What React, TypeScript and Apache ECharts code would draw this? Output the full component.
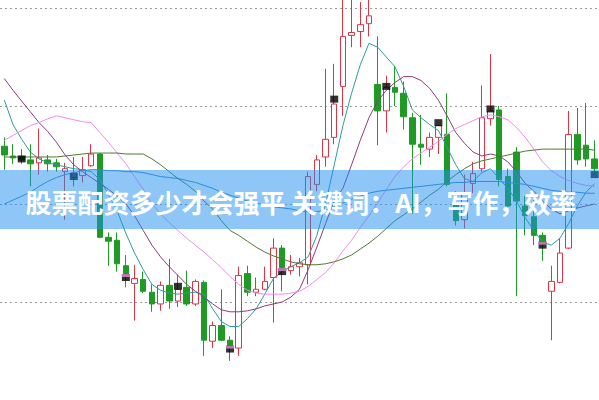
import { useEffect, useRef } from 'react'
import * as echarts from 'echarts'

// 69 trading days, x axis is hidden
const days = Array.from({ length: 69 }, (_, i) => `D${i + 1}`)

// [open, close, low, high]
const candles: number[][] = [
  [25.9, 25.0, 23.5, 26.8], [24.9, 24.7, 24.1, 26.1], [24.8, 24.5, 24.1, 25.6], [24.5, 24.1, 21.8, 26.1],
  [24.2, 24.7, 23.0, 27.7], [24.5, 24.1, 23.3, 25.0], [24.2, 23.8, 23.3, 24.6], [23.3, 23.6, 18.4, 24.2],
  [22.7, 23.2, 21.8, 24.8], [22.9, 23.5, 22.2, 24.8], [23.9, 25.1, 23.8, 26.1], [25.1, 16.6, 16.5, 25.2],
  [16.6, 16.2, 13.7, 17.1], [16.3, 13.9, 13.1, 17.1], [13.7, 12.8, 11.5, 14.8], [11.9, 12.4, 8.1, 13.8],
  [12.3, 11.1, 10.9, 13.1], [11.0, 9.8, 9.0, 11.8], [9.8, 11.7, 9.1, 12.1], [11.7, 10.1, 9.3, 14.4],
  [10.1, 11.3, 9.5, 12.8], [11.5, 9.8, 9.6, 13.2], [9.8, 12.1, 9.6, 12.3], [12.0, 6.1, 4.5, 12.2],
  [6.0, 7.6, 5.3, 8.0], [7.6, 6.1, 6.0, 11.3], [6.1, 5.5, 4.0, 6.5], [5.3, 12.7, 4.5, 13.6],
  [12.9, 11.0, 10.6, 13.7], [11.0, 11.3, 10.6, 12.5], [11.3, 12.1, 11.2, 13.6], [12.5, 15.5, 7.9, 16.5],
  [15.5, 13.5, 11.1, 15.8], [13.2, 13.6, 12.8, 14.8], [13.6, 14.0, 12.6, 14.5], [13.8, 22.8, 11.8, 23.3],
  [22.0, 24.5, 21.3, 25.0], [24.8, 26.6, 23.8, 33.8], [26.8, 30.2, 26.1, 34.3], [32.0, 37.1, 29.0, 42.3],
  [37.2, 37.5, 36.0, 41.8], [37.6, 38.3, 36.0, 40.6], [38.4, 39.2, 37.1, 41.3], [32.2, 29.5, 26.0, 37.1],
  [29.5, 31.9, 27.3, 33.1], [31.9, 31.4, 30.0, 34.1], [31.3, 28.9, 27.6, 32.5], [28.8, 26.1, 19.0, 29.3],
  [26.1, 25.8, 24.0, 29.1], [25.6, 26.8, 24.8, 27.3], [26.8, 28.0, 25.1, 28.1], [27.1, 22.0, 21.8, 31.3],
  [20.1, 18.3, 17.8, 21.3], [18.4, 21.1, 17.5, 23.0], [22.1, 23.1, 21.1, 24.3], [23.6, 28.8, 23.3, 32.1],
  [28.7, 29.5, 28.0, 35.3], [29.6, 22.5, 21.8, 30.0], [22.8, 19.8, 19.1, 23.6], [25.3, 20.3, 10.6, 25.8],
  [19.8, 18.8, 16.8, 20.8], [18.7, 16.8, 15.8, 20.4], [16.8, 16.1, 14.2, 17.1], [11.1, 12.1, 6.1, 13.7],
  [12.0, 15.0, 11.9, 16.5], [15.5, 27.1, 15.4, 29.5], [27.1, 24.5, 24.0, 29.8], [26.0, 24.6, 23.8, 30.3],
  [24.6, 23.6, 23.2, 26.5],
]

const maTeal = [
  30.6, 28.1, 26.6, 25.3, 24.6, 24.2, 24.0, 23.8, 23.6, 23.5, 23.3, 22.5, 21.0, 19.3, 17.0, 15.0, 13.3,
  11.8, 11.2, 10.9, 10.8, 10.9, 11.0, 10.8, 9.3, 8.0, 7.5, 7.5, 8.3, 9.3, 10.8, 12.4, 13.1, 13.6, 14.0,
  14.6, 16.8, 20.0, 24.0, 28.0, 31.3, 34.2, 36.4, 36.0, 35.0, 34.0, 32.0, 29.6, 28.8, 28.1, 27.5, 25.8,
  24.0, 22.6, 22.3, 23.2, 23.6, 22.6, 21.6, 20.3, 18.6, 17.3, 16.1, 15.8, 16.5, 18.0, 19.8, 21.2, 22.1,
]
const maPurple = [
  32.8, 31.6, 30.5, 29.4, 28.3, 27.4, 26.3, 25.0, 24.0, 23.3, 22.7, 22.1, 21.5, 20.8, 20.0, 18.8, 17.3,
  15.8, 14.6, 13.6, 12.7, 11.8, 11.1, 10.5, 9.8, 9.2, 9.0, 9.0, 9.1, 9.3, 9.6, 9.8, 10.0, 10.5, 11.3,
  13.3, 15.6, 18.0, 20.3, 21.6, 24.0, 26.5, 28.8, 30.5, 31.6, 32.4, 33.0, 33.0, 32.6, 31.8, 30.6, 29.0,
  27.3, 26.2, 25.3, 24.9, 25.1, 24.9, 24.3, 23.3, 22.1, 21.3, 20.3, 19.5, 19.0, 19.3, 19.6, 19.8, 20.0,
]
const maPink = [
  26.5, 27.0, 27.5, 28.0, 28.3, 28.7, 29.0, 28.8, 28.6, 28.4, 28.3, 27.3, 26.3, 25.2, 24.1, 22.8, 21.5,
  20.0, 19.0, 18.1, 17.3, 16.5, 15.8, 15.1, 14.3, 13.5, 12.6, 11.8, 11.2, 10.9, 10.8, 10.8, 10.8, 10.9,
  11.1, 11.6, 12.3, 13.0, 14.0, 15.2, 16.3, 17.6, 18.8, 20.1, 21.5, 22.8, 23.8, 24.6, 25.2, 25.8, 26.4,
  27.1, 27.7, 28.1, 28.5, 28.9, 29.1, 28.9, 28.6, 27.8, 26.8, 25.6, 24.3, 23.4, 22.8, 22.4, 22.1, 21.9, 21.8,
]
const maOlive = [
  24.8, 24.8, 24.8, 24.8, 24.8, 24.8, 24.8, 24.9, 25.0, 25.1, 25.2, 25.2, 25.2, 25.2, 25.1, 25.1, 25.1,
  24.6, 24.0, 23.3, 22.6, 22.0, 21.3, 20.3, 19.5, 18.3, 17.3, 16.8, 16.2, 15.6, 15.1, 14.7, 14.4, 14.1,
  13.9, 13.8, 13.8, 13.9, 14.1, 14.4, 14.8, 15.4, 16.0, 16.7, 17.5, 18.3, 18.9, 19.5, 20.2, 20.9, 21.5,
  22.3, 23.0, 23.6, 24.1, 24.4, 24.6, 24.8, 25.0, 25.2, 25.4, 25.5, 25.6, 25.6, 25.6, 25.6, 25.6, 25.6, 25.5,
]
const maBlue = [
  20.0, 20.4, 20.8, 21.2, 21.8, 22.3, 22.7, 23.0, 23.2, 23.4, 23.5, 23.5, 23.4, 23.4, 23.3, 23.3, 23.2,
  23.0, 22.8, 22.7, 22.6, 22.4, 22.2, 21.9, 21.6, 21.2, 20.9, 20.6, 20.3, 20.1, 19.9, 19.7, 19.6, 19.5,
  19.3, 19.2, 19.2, 19.4, 19.7, 20.1, 20.5, 20.8, 21.1, 21.3, 21.4, 21.5, 21.6, 21.7, 21.8, 21.9, 22.0,
  22.1, 22.2, 22.2, 22.3, 22.3, 22.3, 22.3, 22.2, 22.1, 22.0, 21.8, 21.6, 21.4, 21.3, 21.2, 21.2, 21.1, 21.1,
]

// signal boxes every 6th day: [dayIndex, price]
const signalsDark: number[][] = [
  [2, 24.6], [8, 22.8], [20, 11.6], [38, 30.7], [44, 32.0], [50, 28.3], [56, 29.7], [68, 23.0],
]
const signalsPink: number[][] = [[14, 12.5], [26, 5.2], [32, 13.1], [62, 15.8]]

const TITLE = '股票配资多少才会强平 关键词：AI，写作，效率'

const RED = '#dc3545'
const GREEN = '#1f9b25'

function line(name: string, data: number[], color: string) {
  return {
    name,
    type: 'line' as const,
    data,
    symbol: 'none',
    clip: false,
    silent: true,
    lineStyle: { color, width: 1 },
    z: 3,
  }
}

export default function App() {
  const ref = useRef<HTMLDivElement>(null)

  useEffect(() => {
    if (!ref.current) return
    const chart = echarts.init(ref.current, undefined, { renderer: 'svg' })
    chart.setOption({
      animation: false,
      backgroundColor: '#fff',
      grid: { left: 0, right: -5, top: 8, bottom: -8 },
      xAxis: {
        type: 'category',
        data: days,
        boundaryGap: true,
        show: false,
      },
      yAxis: {
        type: 'value',
        min: 0,
        max: 40,
        interval: 10,
        axisLine: { show: false },
        axisTick: { show: false },
        axisLabel: { show: false },
        splitLine: { show: true, lineStyle: { color: '#9a9a9a', type: [2, 3], width: 1 } },
      },
      series: [
        {
          type: 'candlestick',
          data: candles,
          barWidth: 6,
          clip: false,
          itemStyle: {
            color: '#ffffff',
            color0: GREEN,
            borderColor: RED,
            borderColor0: GREEN,
            borderWidth: 1,
          },
          z: 2,
        },
        line('MA5', maTeal, '#2e9c9c'),
        line('MA10', maPurple, '#8e3a80'),
        line('MA20', maPink, '#f08cf0'),
        line('MA30', maBlue, '#3a88c8'),
        line('MA60', maOlive, '#4e7a30'),
        {
          type: 'scatter',
          data: [...signalsDark, ...signalsPink],
          symbol: 'rect',
          symbolSize: [8, 7],
          itemStyle: { color: '#000' },
          clip: false,
          z: 5,
        },
        {
          type: 'scatter',
          data: signalsPink,
          symbol: 'rect',
          symbolSize: [8, 3],
          symbolOffset: [0, -2],
          itemStyle: { color: '#e58ad8' },
          clip: false,
          z: 6,
        },
      ],
      graphic: [
        {
          type: 'rect',
          left: 0,
          top: 170,
          shape: { width: 599, height: 59 },
          style: { fill: 'rgba(30,144,240,0.5)' },
          z: 100,
        },
        {
          type: 'text',
          x: 301,
          y: 201,
          style: {
            text: TITLE,
            fill: '#ffffff',
            font: 'bold 26px "Noto Sans CJK SC", sans-serif',
            textAlign: 'center',
            textVerticalAlign: 'middle',
          },
          z: 101,
        },
      ],
    })
    return () => chart.dispose()
  }, [])

  return (
    <div
      ref={ref}
      style={{ position: 'fixed', left: 0, top: 0, width: 599, height: 400 }}
    />
  )
}
